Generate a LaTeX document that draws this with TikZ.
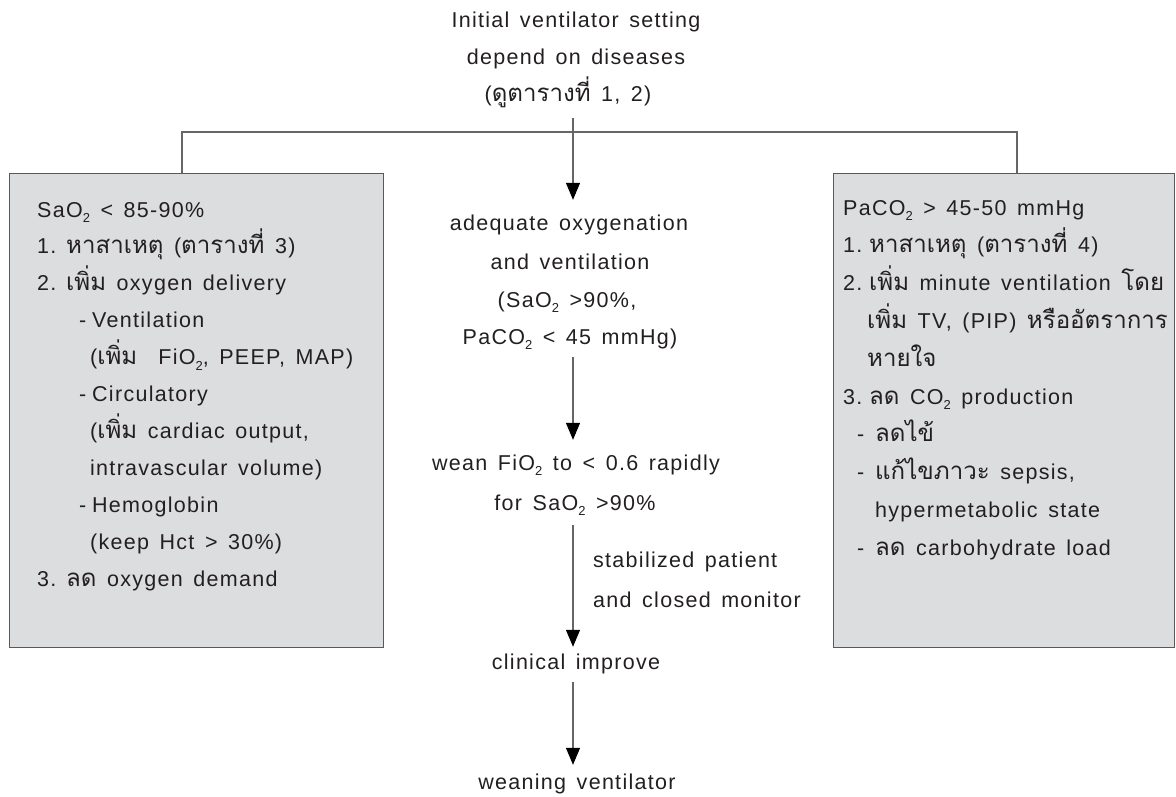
\documentclass[tikz,border=0pt]{standalone}
\usepackage{fontspec}
\setmainfont{Liberation Sans}[LetterSpace=6,WordSpace=1.45]
\newfontfamily\thf[Script=Thai,Scale=1.12,WordSpace=1.45]{Loma}
\usetikzlibrary{arrows.meta}
\definecolor{boxgray}{RGB}{220,221,223}
\definecolor{inkc}{RGB}{35,31,32}
\newcommand{\itmL}[1]{\makebox[29pt][l]{#1}}
\newcommand{\itmR}[1]{\makebox[26pt][l]{#1}}
\newcommand{\dshL}{\makebox[13pt][l]{-}}
\newcommand{\dshR}{\makebox[18pt][l]{-}}
\newcommand{\sub}[1]{\raisebox{-0.5ex}{\fontsize{13}{13}\selectfont #1}}
\begin{document}
\begin{tikzpicture}[x=1pt,y=-1pt,
  txt/.style={inner sep=0pt, text height=15pt, text depth=5pt, font=\fontsize{21.5}{26}\selectfont, text=inkc},
  lt/.style={txt, anchor=base west},
  ct/.style={txt, anchor=base},
  panel/.style={draw=black!65, line width=1.2pt, fill=boxgray, inner sep=0pt, anchor=north west},
  conn/.style={draw=black!60, line width=1.2pt},
  arr/.style={conn, -{Triangle[length=17pt,width=14pt,color=black]}}
]
\useasboundingbox (0,0) rectangle (1176,796);

% panels
\node[panel, minimum width=374pt, minimum height=474pt] (lbox) at (9,173) {};
\node[panel, minimum width=341pt, minimum height=474pt] (rbox) at (833,173) {};

% helper coordinates
\coordinate (spine) at (573,0);
\coordinate (lcol) at (182,0);
\coordinate (rcol) at (1017,0);
\coordinate (bar) at (0,132);

% centre column
\node[ct] (t1) at (576,27) {Initial ventilator setting};
\node[ct] (t2) at (576,64) {depend on diseases};
\node[ct] (t3) at (568,101) {({\thf ดูตารางที่} 1, 2)};

\node[ct] (a1) at (569,230) {adequate oxygenation};
\node[ct] (a2) at (570,269) {and ventilation};
\node[ct] (a3) at (567,307) {(SaO\sub{2} >90\%,};
\node[ct] (a4) at (570,344) {PaCO\sub{2} < 45 mmHg)};

\node[ct] (w1) at (576,470) {wean FiO\sub{2} to < 0.6 rapidly};
\node[ct] (w2) at (575,510) {for SaO\sub{2} >90\%};

\node[lt] (s1) at (593,567) {stabilized patient};
\node[lt] (s2) at (593,607) {and closed monitor};

\node[ct] (c1) at (576,669) {clinical improve};
\node[ct] (n1) at (577,789) {weaning ventilator};

% left panel text
\node[lt] (l0) at (37,217.0) {SaO\sub{2} < 85-90\%};
\node[lt] (l1) at (37,253.9) {\itmL{1.}{\thf หาสาเหตุ} ({\thf ตารางที่} 3)};
\node[lt] (l2) at (37,290.8) {\itmL{2.}{\thf เพิ่ม} oxygen delivery};
\node[lt] (l3) at (79,327.7) {\dshL Ventilation};
\node[lt] (l4) at (90,364.6) {({\thf เพิ่ม}\ \ FiO\sub{2}, PEEP, MAP)};
\node[lt] (l5) at (79,401.5) {\dshL Circulatory};
\node[lt] (l6) at (90,438.4) {({\thf เพิ่ม} cardiac output,};
\node[lt] (l7) at (90,475.3) {intravascular volume)};
\node[lt] (l8) at (79,512.2) {\dshL Hemoglobin};
\node[lt] (l9) at (90,549.1) {(keep Hct > 30\%)};
\node[lt] (l10) at (37,586.0) {\itmL{3.}{\thf ลด} oxygen demand};

% right panel text
\node[lt] (r0) at (843,215.0) {PaCO\sub{2} > 45-50 mmHg};
\node[lt] (r1) at (843,252.8) {\itmR{1.}{\thf หาสาเหตุ} ({\thf ตารางที่} 4)};
\node[lt] (r2) at (843,290.6) {\itmR{2.}{\thf เพิ่ม} minute ventilation {\thf โดย}};
\node[lt] (r3) at (867,328.4) {{\thf เพิ่ม} TV, (PIP) {\thf หรืออัตราการ}};
\node[lt] (r4) at (867,366.2) {{\thf หายใจ}};
\node[lt] (r5) at (843,404.0) {\itmR{3.}{\thf ลด} CO\sub{2} production};
\node[lt] (r6) at (857,441.8) {\dshR{\thf ลดไข้}};
\node[lt] (r7) at (857,479.6) {\dshR{\thf แก้ไขภาวะ} sepsis,};
\node[lt] (r8) at (875,517.4) {hypermetabolic state};
\node[lt] (r9) at (857,555.2) {\dshR{\thf ลด} carbohydrate load};

% branch line to panels
\draw[conn] (lbox.north -| lcol) |- (rcol |- bar) -- (rbox.north -| rcol);

% arrows down the centre
\draw[arr, shorten <=12pt, shorten >=15pt] (t3.south -| spine) -- (a1.north -| spine);
\draw[arr, shorten <=8pt, shorten >=15pt] (a4.south -| spine) -- (w1.north -| spine);
\draw[arr, shorten <=10pt, shorten >=7pt] (w2.south -| spine) -- (c1.north -| spine);
\draw[arr, shorten <=8pt, shorten >=9pt] (c1.south -| spine) -- (n1.north -| spine);
\end{tikzpicture}
\end{document}
